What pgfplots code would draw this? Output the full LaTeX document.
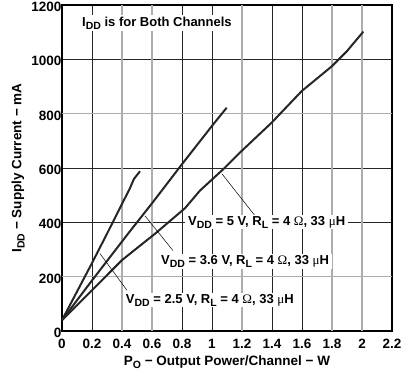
\documentclass[border=0pt]{standalone}
\usepackage{fontspec}
\setmainfont{Liberation Sans}
\newfontfamily\serif{Liberation Serif}
\usepackage{pgfplots}
\pgfplotsset{compat=1.18}
\newcommand\sub[1]{\raisebox{-0.45ex}{\fontsize{10.5}{10}\selectfont #1}}
\begin{document}
\begin{tikzpicture}
\begin{axis}[
  scale only axis, width=330pt, height=326pt,
  xmin=0, xmax=2.2, ymin=0, ymax=1200,
  xtick={0,0.2,0.8,1,1.4,1.6,2.2},
  extra x ticks={0.4,0.6,1.2,1.8,2},
  ytick={0,400,600,1000,1200},
  extra y ticks={200,800},
  grid=major,
  major grid style={black!85, line width=0.9pt},
  extra tick style={grid=major, major grid style={black!32, line width=1.3pt}},
  major tick length=0pt,
  axis line style={black, line width=1.4pt},
  /pgf/number format/assume math mode=true,
  /pgf/number format/1000 sep={},
  ticklabel style={font=\fontsize{13.5}{15}\selectfont\bfseries},
  xticklabel style={inner ysep=0pt, yshift=-8pt},
  yticklabel style={xshift=3pt, yshift=-2pt, inner ysep=0pt},
  label style={font=\fontsize{13.5}{15}\selectfont\bfseries},
  xlabel={P\sub{O} − Output Power/Channel − W},
  ylabel={I\sub{DD} − Supply Current − mA},
  xlabel style={yshift=-3pt},
  ylabel style={yshift=0pt},
  clip=false,
]
% 2.5 V
\addplot[black!85, line width=2pt, line join=round, no marks] coordinates {(0,40) (0.1,145) (0.2,250) (0.3,358) (0.4,468) (0.45,522) (0.48,560) (0.52,588)};
% 3.6 V
\addplot[black!85, line width=2pt, line join=round, no marks] coordinates {(0,40) (0.2,186) (0.44,358) (0.6,470) (0.8,614) (1.0,755) (1.098,822)};
% 5 V
\addplot[black!85, line width=2pt, line join=round, no marks] coordinates {(0,40) (0.2,150) (0.4,261) (0.62,358) (0.82,452) (0.92,517) (1.076,596) (1.198,663) (1.398,767) (1.598,883) (1.798,974) (1.898,1029) (2.009,1102)};
% leader lines
\draw[black, line width=0.5pt] (axis cs:1.067,578) -- (axis cs:1.287,424);
\draw[black, line width=0.5pt] (axis cs:0.553,424) -- (axis cs:0.74,296);
\draw[black, line width=0.5pt] (axis cs:0.253,285) -- (axis cs:0.433,150);
% labels
\node[fill=white, anchor=west, inner sep=2pt, font=\fontsize{13}{15}\selectfont\bfseries] at (axis cs:0.12,1134) {I\sub{DD} is for Both Channels};
\node[fill=white, anchor=west, inner xsep=3pt, inner ysep=1pt, font=\fontsize{13}{15}\selectfont\bfseries] at (axis cs:0.82,400) {V\sub{DD} = 5 V, R\sub{L} = 4 {\serif\mdseries Ω}, 33 {\serif\mdseries μ}H\hspace{8pt}};
\node[fill=white, anchor=west, inner xsep=3pt, inner ysep=1pt, font=\fontsize{13}{15}\selectfont\bfseries] at (axis cs:0.64,256) {V\sub{DD} = 3.6 V, R\sub{L} = 4 {\serif\mdseries Ω}, 33 {\serif\mdseries μ}H\hspace{8pt}};
\node[fill=white, anchor=west, inner xsep=3pt, inner ysep=1pt, font=\fontsize{13}{15}\selectfont\bfseries] at (axis cs:0.405,113) {V\sub{DD} = 2.5 V, R\sub{L} = 4 {\serif\mdseries Ω}, 33 {\serif\mdseries μ}H\hspace{8pt}};
\end{axis}
\pgfresetboundingbox
\path[use as bounding box] ([shift={(-62pt,-40pt)}]current axis.south west) rectangle ([shift={(9pt,5pt)}]current axis.north east);
\end{tikzpicture}
\end{document}
